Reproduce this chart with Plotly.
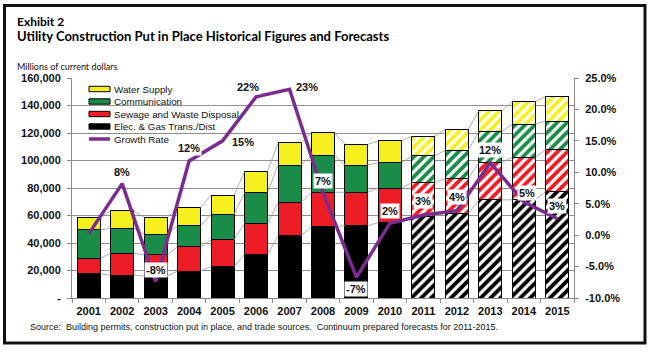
import plotly.graph_objects as go
import numpy as np

years = ["2001", "2002", "2003", "2004", "2005", "2006", "2007", "2008",
         "2009", "2010", "2011", "2012", "2013", "2014", "2015"]
elec = [17700, 16500, 16000, 19600, 22800, 31800, 45100, 51900,
        52600, 54800, 59600, 61600, 71300, 71500, 77400]
sewage = [11200, 16000, 15300, 17700, 19400, 22500, 24500, 25000,
          24300, 25200, 24300, 25400, 27100, 30800, 30700]
communication = [20600, 18400, 15000, 15300, 18600, 22300, 27100, 26600,
                 19800, 18400, 19400, 20600, 22600, 24200, 20600]
water = [9200, 12400, 12400, 12900, 14100, 15300, 16200, 16700,
         15100, 15800, 14500, 15100, 15200, 16300, 18200]
growth = [0.2, 8.2, -7.4, 11.8, 15.0, 22.0, 23.2, 6.8,
          -6.7, 1.9, 3.2, 3.9, 11.5, 5.3, 2.6]
growth_labels = ["", "8%", "-8%", "12%", "15%", "22%", "23%", "7%",
                 "-7%", "2%", "3%", "4%", "12%", "5%", "3%"]
forecast = [False] * 10 + [True] * 5

left_ticks = [0, 20000, 40000, 60000, 80000, 100000, 120000, 140000, 160000]
left_ticktext = ["-", "20,000", "40,000", "60,000", "80,000", "100,000",
                 "120,000", "140,000", "160,000"]
right_ticks = [-10, -5, 0, 5, 10, 15, 20, 25]
right_ticktext = ["-10.0%", "-5.0%", "0.0%", "5.0%", "10.0%", "15.0%",
                  "20.0%", "25.0%"]

series = [
    ("Elec. & Gas Trans./Dist", elec, "#000000"),
    ("Sewage and Waste Disposal", sewage, "#EE1C24"),
    ("Communication", communication, "#198C48"),
    ("Water Supply", water, "#F6F01E"),
]

# plot-area geometry in pixels
W, H = 650, 352
L, R, T, B = 72, 574, 78, 298
pw, ph = R - L, B - T


def px(x):
    return (x - L) / pw


def py(y):
    return (B - y) / ph


x = list(range(len(years)))
bargap = 0.314
half = (1 - bargap) / 2

fig = go.Figure()

# series lines connecting stacked segments
cum = np.cumsum(np.array([s[1] for s in series], dtype=float), axis=0)
sx, sy = [], []
for lvl in range(cum.shape[0]):
    for i in range(len(years) - 1):
        sx += [x[i] + half, x[i + 1] - half, None]
        sy += [cum[lvl, i], cum[lvl, i + 1], None]
fig.add_trace(go.Scatter(x=sx, y=sy, mode="lines",
                         line=dict(color="#9a9a9a", width=0.8),
                         hoverinfo="skip", showlegend=False))

for name, vals, col in series:
    fig.add_trace(go.Bar(
        x=x, y=vals, name=name,
        marker=dict(color=col, line=dict(color="#000000", width=1),
                    pattern=dict(shape=["/" if f else "" for f in forecast],
                                 fgcolor="#ffffff", fgopacity=1,
                                 size=7, solidity=0.45)),
        showlegend=False))

fig.add_trace(go.Scatter(x=x, y=growth, name="Growth Rate", yaxis="y2",
                         mode="lines", line=dict(color="#7B2D8F", width=3.5),
                         showlegend=False))

# growth labels (pixel offsets from the point)
offsets = [(0, 0), (0, -12), (0, -12), (0, -13), (20, 1), (-8, -10), (17, -2),
           (0, -11), (0, 12), (0, -12), (0, -14), (0, -14), (0, -13), (3, -9),
           (0, -13)]
for i, (lab, g, (dx, dy)) in enumerate(zip(growth_labels, growth, offsets)):
    if not lab:
        continue
    fig.add_annotation(x=x[i], y=g, xref="x", yref="y2", text="<b>%s</b>" % lab,
                       showarrow=False, xshift=dx, yshift=-dy,
                       bgcolor="#ffffff", borderpad=1,
                       font=dict(family="Liberation Sans, Arial", size=11, color="#111"))

# manual legend
leg = [("Water Supply", "#F6F01E", "bar"), ("Communication", "#198C48", "bar"),
       ("Sewage and Waste Disposal", "#EE1C24", "bar"),
       ("Elec. & Gas Trans./Dist", "#000000", "bar"),
       ("Growth Rate", "#7B2D8F", "line")]
shapes = []
for k, (name, col, kind) in enumerate(leg):
    yc = 89 + k * 12.5
    if kind == "bar":
        shapes.append(dict(type="rect", xref="paper", yref="paper",
                           x0=px(89), x1=px(110), y0=py(yc + 2.7), y1=py(yc - 2.7),
                           fillcolor=col, line=dict(color="#000", width=1)))
    else:
        shapes.append(dict(type="line", xref="paper", yref="paper",
                           x0=px(89), x1=px(110), y0=py(yc), y1=py(yc),
                           line=dict(color=col, width=3.5)))
    fig.add_annotation(x=px(112), y=py(yc), xref="paper", yref="paper",
                       text=name, showarrow=False, xanchor="left", yanchor="middle",
                       font=dict(family="Liberation Sans, Arial", size=9.8, color="#111"))

# outer frame
shapes.append(dict(type="rect", xref="paper", yref="paper",
                   x0=px(4.5), x1=px(645), y0=py(343), y1=py(5.5),
                   line=dict(color="#111", width=3), layer="above"))

# titles and source
fig.add_annotation(x=px(15), y=py(21.5), xref="paper", yref="paper",
                   text="<b>Exhibit 2</b>", showarrow=False, xanchor="left",
                   yanchor="middle", font=dict(family="Lato", size=12, color="#000"))
fig.add_annotation(x=px(15), y=py(35.5), xref="paper", yref="paper",
                   text="<b>Utility Construction Put in Place Historical Figures and Forecasts</b>",
                   showarrow=False, xanchor="left", yanchor="middle",
                   font=dict(family="Lato", size=13, color="#000"))
fig.add_annotation(x=px(15), y=py(66), xref="paper", yref="paper",
                   text="Millions of current dollars", showarrow=False, xanchor="left",
                   yanchor="middle", font=dict(family="Lato", size=9, color="#111"))
fig.add_annotation(x=px(28), y=py(327), xref="paper", yref="paper",
                   text="Source:  Building permits, construction put in place, and trade sources.  Continuum prepared forecasts for 2011-2015.",
                   showarrow=False, xanchor="left", yanchor="middle",
                   font=dict(family="Liberation Sans, Arial", size=9, color="#111"))

fig.update_layout(
    width=W, height=H,
    margin=dict(l=L, r=W - R, t=T, b=H - B, pad=0),
    paper_bgcolor="#ffffff", plot_bgcolor="#ffffff",
    barmode="stack", bargap=bargap,
    shapes=shapes,
    xaxis=dict(range=[-0.5, len(years) - 0.5], tickvals=x, ticktext=years,
               ticks="", showgrid=False, showline=True, linecolor="#8a8a8a",
               linewidth=1, ticklabelstandoff=3, zeroline=False,
               tickfont=dict(family="Liberation Sans, Arial", size=11, color="#111", weight="bold"),
               minor=dict(tickmode="array", tickvals=[i - 0.5 for i in range(len(years) + 1)],
                          ticks="outside", ticklen=4, tickcolor="#8a8a8a", showgrid=False)),
    yaxis=dict(range=[0, 160000], tickvals=left_ticks, ticktext=left_ticktext,
               showgrid=True, gridcolor="#8f8f8f", gridwidth=1,
               showline=True, linecolor="#8a8a8a", ticks="outside", ticklen=4,
               tickcolor="#8a8a8a", ticklabelstandoff=4, zeroline=False,
               tickfont=dict(family="Liberation Sans, Arial", size=11, color="#111", weight="bold")),
    yaxis2=dict(range=[-10, 25], tickvals=right_ticks, ticktext=right_ticktext,
                overlaying="y", side="right", showgrid=False, zeroline=False,
                showline=True, linecolor="#8a8a8a", ticks="outside", ticklen=4,
                tickcolor="#8a8a8a", ticklabelstandoff=4,
                tickfont=dict(family="Liberation Sans, Arial", size=11, color="#111", weight="bold")),
    showlegend=False,
)

fig.write_html("out.html")
